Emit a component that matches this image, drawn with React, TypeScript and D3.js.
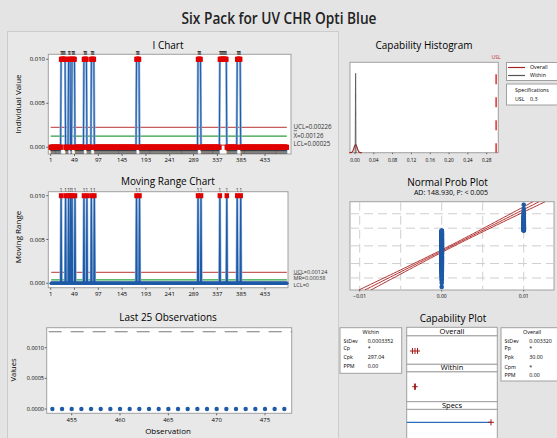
import React from "react";
import * as d3 from "d3";

const FONT = "'Open Sans', 'Noto Sans', sans-serif";
const BLUE = "#1f5aa6";
const LIGHT_BLUE = "#8fb2dc";
const RED = "#e00000";
const DARK_RED = "#a52222";
const GREEN = "#2e9e3e";
const FRAME = "#a0a0a0";

// observations 1..477; these read as 0.010, all others as 0.000
const observationCount = 477;
const highObservations = [
  22, 23, 24, 25, 26, 27, 28, 29, 30,
  37, 38, 39, 40,
  44, 45, 46, 47, 48, 49,
  68, 69, 70, 71, 72, 73,
  83, 84, 85, 86, 87, 88,
  174, 175, 176, 177, 178, 179,
  298, 299, 300, 301, 302, 303,
  342, 343, 344, 345, 346, 347, 348, 349, 350, 351, 352, 353, 354, 355,
  377, 378, 379, 380, 381, 382, 383,
];
const highValue = 0.01;
const lowValue = 0.0;

const iLimits = [0.00226, 0.00126, 0.00025];
const iLimitLabels = ["UCL=0.00226", "=0.00126", "LCL=0.00025"];
const mrLimits = [0.00124, 0.00038, 0];
const mrLimitLabels = ["UCL=0.00124", "=0.00038", "LCL=0"];
const obsTicks = [1, 49, 97, 145, 193, 241, 289, 337, 385, 433];
const chartYTicks = [0, 0.005, 0.01];
const last25Ticks = [455, 460, 465, 470, 475];
const last25YTicks = [0, 0.0005, 0.001];
const histTicks = [0, 0.04, 0.08, 0.12, 0.16, 0.2, 0.24, 0.28];
const probXTicks = [-0.01, 0, 0.01];
const probXGrid = [-0.01, -0.005, 0, 0.005, 0.01];
const probGridPct = [1, 10, 50, 90, 99];

const mean = 0.00126;
const sdWithin = 0.0003352;
const sdOverall = 0.00332;
const usl = 0.3;
const adText = "AD: 148.930, P: < 0.005";

const withinNames = ["StDev", "Cp", "Cpk", "PPM"];
const withinValues = ["0.0003352", "*", "297.04", "0.00"];
const overallNames = ["StDev", "Pp", "Ppk", "Cpm", "PPM"];
const overallValues = ["0.003320", "*", "30.00", "*", "0.00"];

function normInv(p: number): number {
  const a = [-39.69683028665376, 220.9460984245205, -275.9285104469687, 138.357751867269, -30.66479806614716, 2.506628277459239];
  const b = [-54.47609879822406, 161.5858368580409, -155.6989798598866, 66.80131188771972, -13.28068155288572];
  const c = [-0.007784894002430293, -0.3223964580411365, -2.400758277161838, -2.549732539343734, 4.374664141464968, 2.938163982698783];
  const d = [0.007784695709041462, 0.3224671290700398, 2.445134137142996, 3.754408661907416];
  const pl = 0.02425;
  if (p < pl) {
    const q = Math.sqrt(-2 * Math.log(p));
    return (((((c[0] * q + c[1]) * q + c[2]) * q + c[3]) * q + c[4]) * q + c[5]) / ((((d[0] * q + d[1]) * q + d[2]) * q + d[3]) * q + 1);
  }
  if (p > 1 - pl) {
    const q = Math.sqrt(-2 * Math.log(1 - p));
    return -(((((c[0] * q + c[1]) * q + c[2]) * q + c[3]) * q + c[4]) * q + c[5]) / ((((d[0] * q + d[1]) * q + d[2]) * q + d[3]) * q + 1);
  }
  const q = p - 0.5;
  const r = q * q;
  return ((((((a[0] * r + a[1]) * r + a[2]) * r + a[3]) * r + a[4]) * r + a[5]) * q) / (((((b[0] * r + b[1]) * r + b[2]) * r + b[3]) * r + b[4]) * r + 1);
}

const pdf = (x: number, m: number, s: number) =>
  Math.exp(-0.5 * ((x - m) / s) ** 2) / (s * Math.sqrt(2 * Math.PI));

const obsX = d3.scaleLinear().domain([1, 433]).range([50.7, 265]);

function Frame({ x0, y0, x1, y1 }: any) {
  return <rect x={x0} y={y0} width={x1 - x0} height={y1 - y0} fill="white" stroke={FRAME} strokeWidth={1} />;
}

function IChart({ values }: { values: number[] }) {
  const y = d3.scaleLinear().domain([0, 0.01]).range([147.3, 59.3]);
  const f = { x0: 48.3, y0: 54.3, x1: 291, y1: 154 };
  const path = d3.line<number>().x((_, i) => obsX(i + 1)).y((d) => y(d))(values) || "";
  const [ucl, , lcl] = iLimits;
  return (
    <g>
      <text x={168} y={48.5} textAnchor="middle" fontSize={10}>I Chart</text>
      <Frame {...f} />
      {iLimits.map((v, k) => (
        <line key={k} x1={obsX(1)} x2={obsX(observationCount)} y1={y(v)} y2={y(v)}
          stroke={k === 1 ? GREEN : "#c65c5c"} strokeWidth={1.2} />
      ))}
      <path d={path} fill="none" stroke={LIGHT_BLUE} strokeWidth={2.4} />
      <path d={path} fill="none" stroke={BLUE} strokeWidth={1} />
      {values.map((v, i) =>
        v > ucl || v < lcl ? (
          <rect key={i} x={obsX(i + 1) - 2.25} y={y(v) - 2.5} width={4.5} height={5} fill={RED} />
        ) : null
      )}
      {values.map((v, i) =>
        v > ucl || v < lcl ? (
          <text key={i} x={obsX(i + 1)} y={v > ucl ? y(v) - 4 : y(v) + 6.5} fontSize={4.5}
            textAnchor="middle" fill="#222">1</text>
        ) : null
      )}
      {obsTicks.map((t) => (
        <g key={t}>
          <line x1={obsX(t)} x2={obsX(t)} y1={f.y1} y2={f.y1 + 2} stroke="#666" />
          <text x={obsX(t)} y={162} fontSize={6} textAnchor="middle">{t}</text>
        </g>
      ))}
      {chartYTicks.map((t) => (
        <g key={t}>
          <line x1={f.x0 - 2} x2={f.x0} y1={y(t)} y2={y(t)} stroke="#666" />
          <text x={45} y={y(t) + 2} fontSize={6} textAnchor="end">{d3.format(".3f")(t)}</text>
        </g>
      ))}
      {iLimitLabels.map((s, k) => (
        <text key={k} x={293.5} y={[129, 137.5, 146][k]} fontSize={6.2} fill="#333">
          {k === 1 ? <tspan style={{ textDecoration: "overline" }}>X</tspan> : null}
          {s}
        </text>
      ))}
      <text transform="translate(21,104) rotate(-90)" textAnchor="middle" fontSize={8}>Individual Value</text>
    </g>
  );
}

function MRChart({ values }: { values: number[] }) {
  const mr = values.slice(1).map((v, i) => Math.abs(v - values[i]));
  const y = d3.scaleLinear().domain([0, 0.01]).range([283.3, 195.7]);
  const f = { x0: 48.3, y0: 191.7, x1: 288, y1: 287.7 };
  const path = d3.line<number>().x((_, i) => obsX(i + 2)).y((d) => y(d))(mr) || "";
  const ucl = mrLimits[0];
  return (
    <g>
      <text x={168} y={184.5} textAnchor="middle" fontSize={10}>Moving Range Chart</text>
      <Frame {...f} />
      {mrLimits.map((v, k) => (
        <line key={k} x1={obsX(2)} x2={obsX(observationCount)} y1={y(v)} y2={y(v)}
          stroke={k === 1 ? GREEN : "#c65c5c"} strokeWidth={1.2} />
      ))}
      <path d={path} fill="none" stroke={LIGHT_BLUE} strokeWidth={2.4} />
      <path d={path} fill="none" stroke={BLUE} strokeWidth={1.2} />
      {mr.map((v, i) =>
        v > ucl ? (
          <g key={i}>
            <rect x={obsX(i + 2) - 2.25} y={y(v) - 2.5} width={4.5} height={5} fill={RED} />
            <text x={obsX(i + 2)} y={y(v) - 4.2} fontSize={4.5} textAnchor="middle" fill="#222">1</text>
          </g>
        ) : (
          <circle key={i} cx={obsX(i + 2)} cy={y(v)} r={1.8} fill={BLUE} />
        )
      )}
      {obsTicks.map((t) => (
        <g key={t}>
          <line x1={obsX(t)} x2={obsX(t)} y1={f.y1} y2={f.y1 + 2} stroke="#666" />
          <text x={obsX(t)} y={295.5} fontSize={6} textAnchor="middle">{t}</text>
        </g>
      ))}
      {chartYTicks.map((t) => (
        <g key={t}>
          <line x1={f.x0 - 2} x2={f.x0} y1={y(t)} y2={y(t)} stroke="#666" />
          <text x={45} y={y(t) + 2} fontSize={6} textAnchor="end">{d3.format(".3f")(t)}</text>
        </g>
      ))}
      {mrLimitLabels.map((s, k) => (
        <text key={k} x={293.5} y={[273.5, 280.3, 287.3][k]} fontSize={5.5} fill="#333">
          {k === 1 ? <tspan style={{ textDecoration: "overline" }}>MR</tspan> : null}
          {s}
        </text>
      ))}
      <text transform="translate(21,237) rotate(-90)" textAnchor="middle" fontSize={8}>Moving Range</text>
    </g>
  );
}

function Last25({ values }: { values: number[] }) {
  const last = values.slice(-25);
  const first = observationCount - 24;
  const x = d3.scaleLinear().domain([455, 475]).range([71.7, 265]);
  const y = d3.scaleLinear().domain([0, 0.001]).range([409, 347.7]);
  const f = { x0: 46.7, y0: 327.7, x1: 291.7, y1: 413.3 };
  return (
    <g>
      <text x={168} y={321} textAnchor="middle" fontSize={10}>Last 25 Observations</text>
      <Frame {...f} />
      <line x1={f.x0} x2={f.x1} y1={y(mean)} y2={y(mean)} stroke="#777" strokeWidth={1} strokeDasharray="13 9" strokeDashoffset={-2} />
      {last.map((v, i) => (
        <circle key={i} cx={x(first + i)} cy={y(v)} r={2.2} fill={BLUE} />
      ))}
      {last25Ticks.map((t) => (
        <g key={t}>
          <line x1={x(t)} x2={x(t)} y1={f.y1} y2={f.y1 + 2} stroke="#666" />
          <text x={x(t)} y={422} fontSize={6} textAnchor="middle">{t}</text>
        </g>
      ))}
      {last25YTicks.map((t) => (
        <g key={t}>
          <line x1={f.x0 - 2} x2={f.x0} y1={y(t)} y2={y(t)} stroke="#666" />
          <text x={44} y={y(t) + 2} fontSize={5.5} textAnchor="end">{d3.format(".4f")(t)}</text>
        </g>
      ))}
      <text x={168} y={434} textAnchor="middle" fontSize={8}>Observation</text>
      <text transform="translate(16,370) rotate(-90)" textAnchor="middle" fontSize={7.5}>Values</text>
    </g>
  );
}

function CapHistogram() {
  const x = d3.scaleLinear().domain([0, 0.28]).range([355, 486.7]);
  const y = d3.scaleLinear().domain([0, pdf(mean, mean, sdWithin)]).range([152.7, 73.3]);
  const f = { x0: 350, y0: 62.3, x1: 498.3, y1: 152.7 };
  const curve = (s: number) =>
    d3.line<number>().x((v) => x(v)).y((v) => y(pdf(v, mean, s)))(
      d3.range(-4, 4.001, 0.02).map((k) => mean + k * s)
    ) || "";
  return (
    <g>
      <text x={424} y={48.5} textAnchor="middle" fontSize={10}>Capability Histogram</text>
      <Frame {...f} />
      <path d={curve(sdOverall)} fill="none" stroke={DARK_RED} strokeWidth={1.2} />
      <path d={curve(sdWithin)} fill="none" stroke="#555" strokeWidth={1} />
      <line x1={x(usl)} x2={x(usl)} y1={f.y0} y2={f.y1} stroke="#e03030" strokeWidth={1.5} strokeDasharray="10 13" strokeDashoffset={-12} />
      <text x={x(usl)} y={58.5} fontSize={5} textAnchor="middle" fill="#c03030">USL</text>
      {histTicks.map((t) => (
        <g key={t}>
          <line x1={x(t)} x2={x(t)} y1={f.y1} y2={f.y1 + 1.5} stroke="#666" />
          <text x={x(t)} y={161.5} fontSize={4.8} textAnchor="middle">{d3.format(".2f")(t)}</text>
        </g>
      ))}
      <rect x={506.5} y={62.5} width={60} height={18} fill="white" stroke={FRAME} />
      <line x1={508} x2={525} y1={67.5} y2={67.5} stroke={DARK_RED} strokeWidth={1.2} />
      <text x={530} y={69.3} fontSize={5.3}>Overall</text>
      <line x1={508} x2={525} y1={75.5} y2={75.5} stroke="#555" strokeWidth={1.2} />
      <text x={530} y={77.3} fontSize={5.3}>Within</text>
      <rect x={506.5} y={84} width={60} height={21} fill="white" stroke={FRAME} />
      <text x={532} y={91.5} fontSize={5.3} textAnchor="middle">Specifications</text>
      <text x={515} y={101} fontSize={5.3}>USL</text>
      <text x={530} y={101} fontSize={5.3}>0.3</text>
    </g>
  );
}

function ProbPlot({ values }: { values: number[] }) {
  const n = values.length;
  const x = d3.scaleLinear().domain([-0.01, 0.01]).range([359.7, 523.7]);
  const y = d3.scaleLinear().domain([-3.2, 3.2]).range([290, 201.7]);
  const f = { x0: 350, y0: 201.7, x1: 554, y1: 290 };
  const sorted = values.slice().sort(d3.ascending);
  const pts = sorted.map((v, i) => ({ v, z: normInv((i + 1 - 0.3) / (n + 0.4)) }));
  const zs = d3.range(-3.2, 3.201, 0.05);
  const ci = (k: number) =>
    d3.line<number>().x((z) => x(mean + sdOverall * z + k * 1.96 * sdOverall * Math.sqrt(1 / n + (z * z) / (2 * (n - 1))))).y((z) => y(z))(zs) || "";
  return (
    <g>
      <defs>
        <clipPath id="probClip"><rect x={f.x0} y={f.y0} width={f.x1 - f.x0} height={f.y1 - f.y0} /></clipPath>
      </defs>
      <text x={447.5} y={185.5} textAnchor="middle" fontSize={10}>Normal Prob Plot</text>
      <text x={451} y={195} textAnchor="middle" fontSize={7}>{adText}</text>
      <Frame {...f} />
      <g clipPath="url(#probClip)">
        {probGridPct.map((p) => (
          <line key={p} x1={f.x0} x2={f.x1} y1={y(normInv(p / 100))} y2={y(normInv(p / 100))}
            stroke="#cfcfcf" strokeWidth={1} strokeDasharray="9 5" />
        ))}
        {probXGrid.map((t) => (
          <line key={t} x1={x(t)} x2={x(t)} y1={f.y0} y2={f.y1} stroke="#cfcfcf" strokeWidth={1} strokeDasharray="9 5" />
        ))}
        {[-1, 0, 1].map((k) => (
          <path key={k} d={ci(k)} fill="none" stroke="#b02828" strokeWidth={1} />
        ))}
        {pts.map((p, i) => (
          <circle key={i} cx={x(p.v)} cy={y(p.z)} r={2.3} fill={BLUE} />
        ))}
      </g>
      {probXTicks.map((t) => (
        <g key={t}>
          <line x1={x(t)} x2={x(t)} y1={f.y1} y2={f.y1 + 1.5} stroke="#666" />
          <text x={x(t)} y={297.5} fontSize={5} textAnchor="middle">{d3.format(".2f")(t)}</text>
        </g>
      ))}
    </g>
  );
}

function StatBox({ x0, y0, w, h, title, names, vals, rowY, valX }: any) {
  return (
    <g>
      <rect x={x0} y={y0} width={w} height={h} fill="white" stroke={FRAME} />
      <text x={x0 + w / 2} y={y0 + 6.5} fontSize={5.5} textAnchor="middle">{title}</text>
      {names.map((s: string, i: number) => (
        <g key={s + i}>
          <text x={x0 + 3.5} y={rowY[i]} fontSize={5.3}>{s}</text>
          <text x={valX} y={rowY[i]} fontSize={5.3}>{vals[i]}</text>
        </g>
      ))}
    </g>
  );
}

function CapPlot() {
  const x = d3.scaleLinear().domain([mean, usl]).range([415, 491]);
  const left = 406.7;
  const w = 90.6;
  const headers = [
    { y0: 327.3, y1: 335.7, label: "Overall" },
    { y0: 364.3, y1: 371.7, label: "Within" },
    { y0: 401.7, y1: 409.3, label: "Specs" },
  ];
  const bodies = [
    { y0: 335.7, y1: 364.3 },
    { y0: 371.7, y1: 401.7 },
    { y0: 409.3, y1: 440 },
  ];
  const interval = (s: number, cy: number) => {
    const lo = x(mean - 3 * s);
    const hi = x(mean + 3 * s);
    const ticks = [lo, x(mean), hi];
    return (
      <g stroke="#a01818" strokeWidth={1}>
        <line x1={lo - 2.5} x2={hi + 2.5} y1={cy} y2={cy} />
        {ticks.map((t, i) => <line key={i} x1={t} x2={t} y1={cy - 3} y2={cy + 3} />)}
      </g>
    );
  };
  return (
    <g>
      <text x={453} y={322} textAnchor="middle" fontSize={10}>Capability Plot</text>
      {bodies.map((b, i) => (
        <rect key={i} x={left} y={b.y0} width={w} height={b.y1 - b.y0} fill="white" stroke={FRAME} />
      ))}
      {headers.map((h) => (
        <g key={h.label}>
          <rect x={left} y={h.y0} width={w} height={h.y1 - h.y0} fill="white" stroke={FRAME} />
          <text x={left + w / 2} y={h.y1 - 1.5} fontSize={7.5} textAnchor="middle">{h.label}</text>
        </g>
      ))}
      {interval(sdOverall, 351)}
      {interval(sdWithin, 386.7)}
      <line x1={left} x2={x(usl)} y1={422.3} y2={422.3} stroke="#2f6fba" strokeWidth={1.2} />
      <g stroke="#a01818" strokeWidth={1}>
        <line x1={x(usl) - 3} x2={x(usl) + 3} y1={422.3} y2={422.3} />
        <line x1={x(usl)} x2={x(usl)} y1={419.3} y2={425.3} />
      </g>
      <StatBox x0={340} y0={327.7} w={61.7} h={45.6} title="Within" names={withinNames} vals={withinValues}
        rowY={[343, 349.7, 359.3, 368.3]} valX={367.7} />
      <StatBox x0={501} y0={327.7} w={62} h={53.3} title="Overall" names={overallNames} vals={overallValues}
        rowY={[342.7, 349.7, 359.3, 368.7, 377]} valX={529.3} />
    </g>
  );
}

export default function App() {
  const highSet = new Set(highObservations);
  const values = d3.range(1, observationCount + 1).map((i) => (highSet.has(i) ? highValue : lowValue));
  return (
    <svg width={557} height={438} style={{ position: "absolute", left: 0, top: 0, fontFamily: FONT }}>
      <rect width={557} height={438} fill="#e4e4e4" />
      <rect x={7.5} y={31.5} width={331} height={420} fill="#e8e8e8" stroke="#cccccc" />
      <text x={279} y={24} textAnchor="middle" fontSize={15.5} fontWeight={600} fill="#222"
        textLength={195} lengthAdjust="spacingAndGlyphs">Six Pack for UV CHR Opti Blue</text>
      <IChart values={values} />
      <MRChart values={values} />
      <Last25 values={values} />
      <CapHistogram />
      <ProbPlot values={values} />
      <CapPlot />
    </svg>
  );
}
